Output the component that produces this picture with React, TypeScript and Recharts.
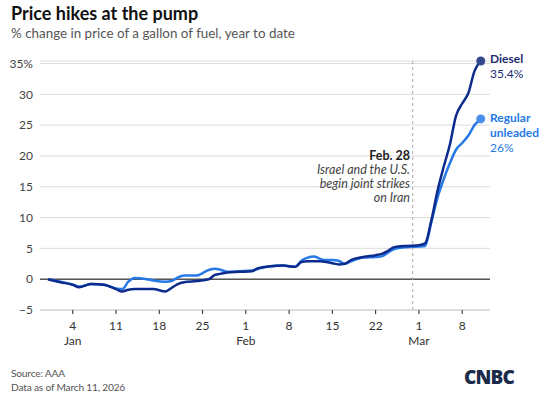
import {
  CartesianGrid,
  Line,
  LineChart,
  ReferenceDot,
  ReferenceLine,
  XAxis,
  YAxis,
} from 'recharts'

// day 0 = Jan 1, 2026
const days = [
  -1, 1, 3, 4, 6, 8, 10, 11, 12, 13, 15, 16, 18, 19, 20, 21, 23, 25, 26, 27, 28, 30, 32, 33, 35,
  37, 39, 40, 41, 42, 43, 44, 45, 46, 47, 48, 50, 52, 53, 54, 55, 57, 59, 60, 61, 62, 63, 64, 65,
  66, 67, 68, 69,
]
const diesel = [
  0, -0.5, -0.9, -1.3, -0.8, -0.9, -1.6, -2.0, -1.7, -1.6, -1.6, -1.6, -2.0, -1.4, -0.8, -0.5,
  -0.3, 0.0, 0.7, 0.9, 1.1, 1.2, 1.3, 1.8, 2.1, 2.2, 2.0, 2.8, 2.9, 2.9, 2.9, 2.8, 2.6, 2.4, 2.5,
  3.1, 3.6, 3.9, 4.1, 4.6, 5.2, 5.4, 5.5, 5.8, 9.5, 14.3, 18.2, 21.8, 26.5, 28.5, 30.2, 33.8, 35.4,
]
const regular = [
  0, -0.4, -0.9, -1.2, -0.8, -0.9, -1.5, -1.6, -0.4, 0.2, 0.0, -0.2, -0.4, -0.3, 0.3, 0.6, 0.6,
  1.5, 1.7, 1.5, 1.2, 1.3, 1.4, 1.7, 2.1, 2.2, 2.0, 3.0, 3.5, 3.7, 3.3, 3.1, 3.1, 3.0, 2.5, 2.9,
  3.5, 3.6, 3.7, 4.3, 4.9, 5.2, 5.3, 5.4, 9.2, 13.2, 16.2, 18.8, 21.0, 22.1, 23.3, 25.0, 26.0,
]
const xTicks = [3, 10, 17, 24, 31, 38, 45, 52, 59, 66]
const xTickLabels = ['4', '11', '18', '25', '1', '8', '15', '22', '1', '8']
const monthLabels: Record<number, string> = { 3: 'Jan', 31: 'Feb', 59: 'Mar' }
const yTicks = [-5, 0, 5, 10, 15, 20, 25, 30, 35]

const data = days.map((d, i) => ({ day: d, diesel: diesel[i], regular: regular[i] }))

const FONT = 'Lato, "Noto Sans", sans-serif'
const DIESEL = '#0c2b8c'
const REGULAR = '#2679e6'

function XTick({ x, y, payload }: any) {
  const i = xTicks.indexOf(payload.value)
  const month = monthLabels[payload.value]
  return (
    <g transform={`translate(${x},${y})`}>
      <line x1={0} x2={0} y1={0} y2={4} stroke="#222" strokeWidth={1} />
      <text x={0} y={20} textAnchor="middle" fill="#333" fontSize={12} fontFamily={FONT}>
        {xTickLabels[i]}
      </text>
      {month && (
        <text x={0} y={35} textAnchor="middle" fill="#333" fontSize={12} fontFamily={FONT}>
          {month}
        </text>
      )}
    </g>
  )
}

const yFmt = (v: number) => (v === 35 ? '35%' : v < 0 ? '\u2212' + Math.abs(v) : String(v))

export default function App() {
  return (
    <div style={{ position: 'relative', width: 550, height: 398, background: '#fff', fontFamily: FONT }}>
      <style>{`body{margin:0}`}</style>
      <div style={{ position: 'absolute', left: 11, top: 2, fontSize: 18, fontWeight: 700, color: '#111' }}>
        Price hikes at the pump
      </div>
      <div style={{ position: 'absolute', left: 11, top: 25, fontSize: 13.4, color: '#555' }}>
        % change in price of a gallon of fuel, year to date
      </div>

      <LineChart
        width={550}
        height={398}
        data={data}
        margin={{ top: 61, right: 60, bottom: 48, left: 8 }}
        style={{ position: 'absolute', left: 0, top: 0 }}
      >
        <CartesianGrid vertical={false} stroke="#dcdcdc" />
        <XAxis
          type="number"
          dataKey="day"
          domain={[-2.3, 70.5]}
          ticks={xTicks}
          tick={<XTick />}
          tickLine={false}
          tickSize={0}
          tickMargin={0}
          axisLine={{ stroke: '#ccc' }}
          height={40}
          allowDataOverflow
        />
        <YAxis
          domain={[-5, 35]}
          ticks={yTicks}
          tickFormatter={yFmt}
          width={32}
          axisLine={false}
          tickLine={false}
          tickSize={0}
          tickMargin={7}
          tick={{ fill: '#444', fontSize: 12, fontFamily: FONT }}
        />
        <ReferenceLine y={0} stroke="#555" strokeWidth={1.5} />
        <ReferenceLine x={58} stroke="#aaa" strokeDasharray="3 3" />
        <Line
          type="monotone"
          dataKey="regular"
          stroke={REGULAR}
          strokeWidth={2.5}
          dot={false}
          isAnimationActive={false}
        />
        <Line
          type="monotone"
          dataKey="diesel"
          stroke={DIESEL}
          strokeWidth={2.5}
          dot={false}
          isAnimationActive={false}
        />
        <ReferenceDot x={69} y={35.4} r={4.5} fill="#33478f" stroke="none" />
        <ReferenceDot x={69} y={26} r={4.5} fill="#4a90ea" stroke="none" />
      </LineChart>

      <div style={{ position: 'absolute', right: 140, top: 149, textAlign: 'right', fontSize: 12.5, lineHeight: '14px', color: '#444' }}>
        <div style={{ fontWeight: 700, color: '#222' }}>Feb. 28</div>
        <div style={{ fontStyle: 'italic' }}>Israel and the U.S.</div>
        <div style={{ fontStyle: 'italic' }}>begin joint strikes</div>
        <div style={{ fontStyle: 'italic' }}>on Iran</div>
      </div>

      <div style={{ position: 'absolute', left: 490, top: 51, fontSize: 12, lineHeight: '15px', color: '#1c2d70' }}>
        <div style={{ fontWeight: 700 }}>Diesel</div>
        <div>35.4%</div>
      </div>
      <div style={{ position: 'absolute', left: 490, top: 110, fontSize: 12, lineHeight: '15px', color: REGULAR }}>
        <div style={{ fontWeight: 700 }}>Regular</div>
        <div style={{ fontWeight: 700 }}>unleaded</div>
        <div>26%</div>
      </div>

      <div style={{ position: 'absolute', left: 11, top: 366, fontSize: 10.2, lineHeight: '14px', color: '#555', letterSpacing: -0.2 }}>
        <div>Source: AAA</div>
        <div>Data as of March 11, 2026</div>
      </div>
      <div
        style={{
          position: 'absolute',
          left: 464,
          top: 364,
          fontSize: 19,
          fontWeight: 900,
          color: '#1a2a48',
          letterSpacing: -0.8,
          fontFamily: '"Open Sans", sans-serif',
        }}
      >
        CNBC
      </div>
    </div>
  )
}
